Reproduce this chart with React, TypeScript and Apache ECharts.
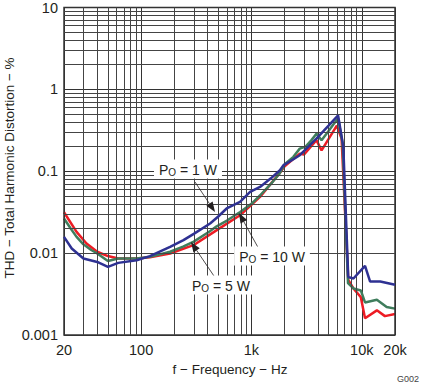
import React, { useEffect, useRef } from "react";
import * as echarts from "echarts";

// ---- Data ----
const freqBlue = [20, 23.5, 30, 40, 50, 62, 91, 120, 183, 242, 300, 422, 500, 596, 788, 972, 1196, 1500, 1812, 1944, 2400, 2740, 3100, 3880, 5000, 6100, 6800, 7540, 8400, 10700, 11900, 14700, 20000];
const thdBlue = [0.0158, 0.0114, 0.0086, 0.0078, 0.0068, 0.0076, 0.0082, 0.0092, 0.0119, 0.0144, 0.0172, 0.023, 0.028, 0.0351, 0.0422, 0.056, 0.0644, 0.082, 0.103, 0.118, 0.14, 0.157, 0.185, 0.25, 0.36, 0.48, 0.2, 0.0051, 0.0049, 0.007, 0.0045, 0.0045, 0.0041];

const freqGreen = [20, 23, 26, 30, 35, 40, 50, 62, 91, 120, 183, 240, 300, 420, 480, 600, 790, 1000, 1200, 1500, 1800, 2000, 2400, 2740, 3100, 3500, 3880, 4320, 5000, 5500, 6100, 6700, 7500, 8400, 9800, 10700, 13700, 16800, 20000];
const thdGreen = [0.0265, 0.02, 0.0158, 0.0128, 0.011, 0.0099, 0.008, 0.0086, 0.0086, 0.009, 0.0104, 0.012, 0.0138, 0.0185, 0.0211, 0.025, 0.0318, 0.04, 0.0509, 0.07, 0.094, 0.122, 0.15, 0.189, 0.2, 0.24, 0.288, 0.239, 0.31, 0.37, 0.44, 0.22, 0.0043, 0.0037, 0.0035, 0.0025, 0.0027, 0.0022, 0.0021];

const freqRed = [20, 26, 32, 40, 50, 62, 91, 120, 183, 298, 485, 788, 1196, 1812, 2000, 2740, 3000, 3880, 4320, 5940, 6560, 7540, 8400, 9800, 10700, 13700, 16200, 20000];
const thdRed = [0.0316, 0.0182, 0.0131, 0.0104, 0.0092, 0.0086, 0.0086, 0.0089, 0.0099, 0.0125, 0.0191, 0.029, 0.0486, 0.096, 0.115, 0.164, 0.16, 0.24, 0.18, 0.36, 0.25, 0.0047, 0.0037, 0.0029, 0.0016, 0.002, 0.0017, 0.0018];

const xMinorGrid = [30, 40, 50, 60, 70, 80, 90, 200, 300, 400, 500, 600, 700, 800, 900, 2000, 3000, 4000, 5000, 6000, 7000, 8000, 9000];
const yMinorGrid = [0.002, 0.003, 0.004, 0.005, 0.006, 0.007, 0.008, 0.009, 0.02, 0.03, 0.04, 0.05, 0.06, 0.07, 0.08, 0.09, 0.2, 0.3, 0.4, 0.5, 0.6, 0.7, 0.8, 0.9, 2, 3, 4, 5, 6, 7, 8, 9];

const FONT = "'Liberation Sans', Arial, Helvetica, sans-serif";
const TXT = "#231f20";

function zip(xs: number[], ys: number[]) {
  return xs.map((x, i) => [x, ys[i]]);
}

function arrow(sx: number, sy: number, tx: number, ty: number) {
  const dx = tx - sx;
  const dy = ty - sy;
  const len = Math.sqrt(dx * dx + dy * dy);
  const ux = dx / len;
  const uy = dy / len;
  const L = 10;
  const W = 3.8;
  const bx = tx - ux * L;
  const by = ty - uy * L;
  const nx = -uy;
  const ny = ux;
  return [
    {
      type: "line",
      shape: { x1: sx, y1: sy, x2: bx, y2: by },
      style: { stroke: TXT, lineWidth: 0.8 },
      z: 20,
    },
    {
      type: "polygon",
      shape: {
        points: [
          [tx, ty],
          [bx + nx * W, by + ny * W],
          [bx - nx * W, by - ny * W],
        ],
      },
      style: { fill: TXT },
      z: 20,
    },
  ];
}

function label(cx: number, cy: number, rest: string) {
  return {
    type: "text",
    x: cx,
    y: cy,
    z: 21,
    style: {
      text: "{p|P}{s|O}{p| = " + rest + "}",
      align: "center",
      verticalAlign: "middle",
      backgroundColor: "#ffffff",
      padding: [2, 5, 1, 5],
      fill: TXT,
      rich: {
        p: { fontSize: 14, fontFamily: FONT, fill: TXT, lineHeight: 16 },
        s: { fontSize: 10, fontFamily: FONT, fill: TXT, padding: [6, 0, 0, 0] },
      },
    },
  };
}

export default function App() {
  const ref = useRef<HTMLDivElement>(null);

  useEffect(() => {
    if (!ref.current) return;
    document.body.style.margin = "0";
    const chart = echarts.init(ref.current, undefined, { renderer: "svg" });

    const gridLine = { color: "#444", width: 1, type: "solid" };

    const option: any = {
      animation: false,
      backgroundColor: "#ffffff",
      grid: {
        left: 64,
        top: 7,
        right: 26,
        bottom: 50,
        show: true,
        borderColor: "#333",
        borderWidth: 1.5,
        backgroundColor: "transparent",
        z: 5,
      },
      xAxis: {
        type: "log",
        logBase: 10,
        min: 20,
        max: 20000,
        axisLine: { show: false },
        axisTick: { show: false },
        splitLine: { show: true, lineStyle: { color: "#333", width: 1 } },
        axisLabel: {
          interval: 0,
          showMinLabel: true,
          showMaxLabel: true,
          margin: 7,
          fontSize: 14.5,
          fontFamily: FONT,
          color: TXT,
          formatter: (v: number) => {
            const r = Math.round(v);
            return r >= 1000 ? r / 1000 + "k" : String(r);
          },
        },
      },
      yAxis: {
        type: "log",
        logBase: 10,
        min: 0.001,
        max: 10,
        axisLine: { show: false },
        axisTick: { show: false },
        splitLine: { show: true, lineStyle: { color: "#333", width: 1 } },
        axisLabel: {
          margin: 6,
          fontSize: 14.5,
          fontFamily: FONT,
          color: TXT,
          formatter: (v: number) => String(Number(v.toPrecision(3))),
        },
      },
      series: [
        {
          name: "grid",
          type: "line",
          data: [[20, 0.001]],
          showSymbol: false,
          lineStyle: { opacity: 0 },
          silent: true,
          z: 1,
          markLine: {
            silent: true,
            symbol: ["none", "none"],
            label: { show: false },
            lineStyle: gridLine,
            emphasis: { disabled: true },
            animation: false,
            data: [
              ...xMinorGrid.map((v) => ({ xAxis: v })),
              ...yMinorGrid.map((v) => ({ yAxis: v })),
            ],
          },
        },
        {
          name: "PO = 5 W",
          type: "line",
          data: zip(freqRed, thdRed),
          showSymbol: false,
          lineStyle: { color: "#ed1c24", width: 2.5 },
          z: 3,
        },
        {
          name: "PO = 10 W",
          type: "line",
          data: zip(freqGreen, thdGreen),
          showSymbol: false,
          lineStyle: { color: "#3f7d5c", width: 2.5 },
          z: 4,
        },
        {
          name: "PO = 1 W",
          type: "line",
          data: zip(freqBlue, thdBlue),
          showSymbol: false,
          lineStyle: { color: "#2e3192", width: 2.5 },
          z: 5,
        },
      ],
      graphic: [
        {
          type: "text",
          x: 9,
          y: 168,
          rotation: Math.PI / 2,
          style: {
            text: "THD \u2212 Total Harmonic Distortion \u2212 %",
            align: "center",
            verticalAlign: "middle",
            fontSize: 13.5,
            fontFamily: FONT,
            fill: TXT,
          },
        },
        {
          type: "text",
          x: 230,
          y: 369,
          style: {
            text: "f \u2212 Frequency \u2212 Hz",
            align: "center",
            verticalAlign: "middle",
            fontSize: 13.5,
            fontFamily: FONT,
            fill: TXT,
          },
        },
        {
          type: "text",
          x: 419,
          y: 379,
          style: {
            text: "G002",
            align: "right",
            verticalAlign: "middle",
            fontSize: 9,
            fontFamily: FONT,
            fill: "#444",
          },
        },
        ...arrow(195, 182, 215, 212),
        ...arrow(260, 251, 239, 213),
        ...arrow(216, 279, 191, 242),
        label(188, 169, "1 W"),
        label(272, 256, "10 W"),
        label(221, 285, "5 W"),
      ],
    };

    chart.setOption(option);
    return () => chart.dispose();
  }, []);

  return (
    <div
      ref={ref}
      style={{ position: "absolute", left: 0, top: 0, width: 421, height: 385 }}
    />
  );
}
